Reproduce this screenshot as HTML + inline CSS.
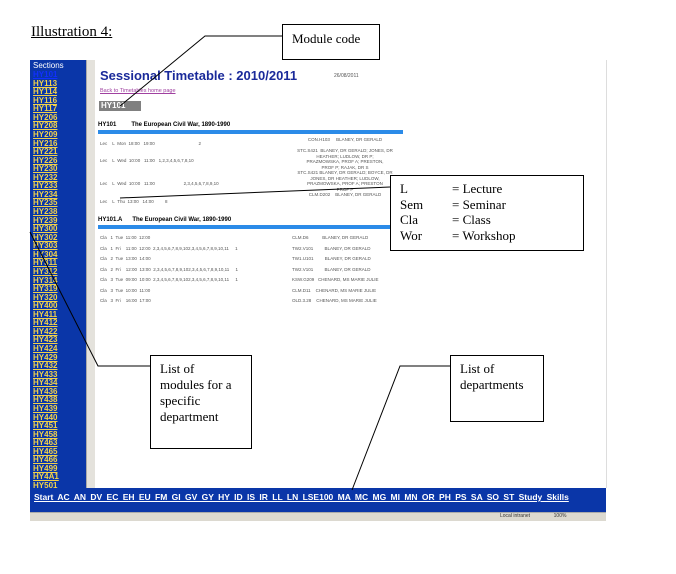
<!DOCTYPE html>
<html><head><meta charset="utf-8"><style>
body{margin:0;width:676px;height:574px;background:#fff;position:relative;overflow:hidden;font-family:"Liberation Sans",sans-serif}
.a{position:absolute}
.serif{font-family:"Liberation Serif",serif}
#side{left:30px;top:60px;width:56px;height:428px;background:#0a36a8;overflow:hidden}
#side div{font-size:8px;font-weight:bold;color:#f2d24a;text-decoration:underline;line-height:8.57px;height:8.57px;padding-left:3px}
.t{font-size:4.5px;color:#555;white-space:nowrap}
.hd{background:#2b8be8;height:4px}
.box{border:1px solid #000;background:#fff}
</style></head><body>
<div class="a serif" style="left:31px;top:24px;font-size:15px;text-decoration:underline">Illustration 4:</div>
<div class="a" id="side">
<div style="color:#fff;text-decoration:none;font-weight:normal;height:11px;line-height:11px">Sections</div>
<div style="color:#1030ff">HY101</div><div>HY113</div><div>HY114</div><div>HY116</div><div>HY117</div><div>HY206</div><div>HY208</div><div>HY209</div><div>HY216</div><div>HY221</div><div>HY226</div><div>HY230</div><div>HY232</div><div>HY233</div><div>HY234</div><div>HY235</div><div>HY238</div><div>HY239</div><div>HY300</div><div>HY302</div><div>HY303</div><div>HY304</div><div>HY311</div><div>HY312</div><div>HY314</div><div>HY319</div><div>HY320</div><div>HY400</div><div>HY411</div><div>HY412</div><div>HY422</div><div>HY423</div><div>HY424</div><div>HY429</div><div>HY432</div><div>HY433</div><div>HY434</div><div>HY436</div><div>HY438</div><div>HY439</div><div>HY440</div><div>HY451</div><div>HY458</div><div>HY463</div><div>HY465</div><div>HY466</div><div>HY499</div><div>HY4A1</div><div>HY501</div>
</div>
<div class="a" style="left:86px;top:60px;width:8px;height:428px;background:#e4e2dc;border-left:1px solid #aaa"></div>
<div class="a" style="left:606px;top:60px;width:1px;height:428px;background:#ddd"></div>
<div class="a" style="left:100px;top:68px;font-size:13px;font-weight:bold;color:#1a2a9a">Sessional Timetable : 2010/2011</div>
<div class="a t" style="left:334px;top:73px;font-size:5px">26/08/2011</div>
<div class="a" style="left:100px;top:88px;font-size:5.5px;color:#a040a0;text-decoration:underline">Back to Timetables home page</div>
<div class="a" style="left:99px;top:101px;width:40px;height:10px;background:#808080;color:#fff;font-size:8px;font-weight:bold;padding-left:2px">HY101</div>
<div class="a" style="left:98px;top:122px;font-size:6px;font-weight:bold">HY101&nbsp;&nbsp;&nbsp;&nbsp;&nbsp;&nbsp;&nbsp;&nbsp;&nbsp;The European Civil War, 1890-1990</div>
<div class="a hd" style="left:98px;top:130px;width:305px"></div>
<div class="a t" style="left:100px;top:141px">Lec&nbsp;&nbsp;&nbsp;&nbsp;L&nbsp;&nbsp;Mon&nbsp;&nbsp;18:00&nbsp;&nbsp;&nbsp;19:00&nbsp;&nbsp;&nbsp;&nbsp;&nbsp;&nbsp;&nbsp;&nbsp;&nbsp;&nbsp;&nbsp;&nbsp;&nbsp;&nbsp;&nbsp;&nbsp;&nbsp;&nbsp;&nbsp;&nbsp;&nbsp;&nbsp;&nbsp;&nbsp;&nbsp;&nbsp;&nbsp;&nbsp;&nbsp;&nbsp;&nbsp;&nbsp;&nbsp;&nbsp;&nbsp;2</div>
<div class="a t" style="left:100px;top:158px">Lec&nbsp;&nbsp;&nbsp;&nbsp;L&nbsp;&nbsp;Wed&nbsp;&nbsp;10:00&nbsp;&nbsp;&nbsp;11:00&nbsp;&nbsp;&nbsp;1,2,3,4,5,6,7,8,10</div>
<div class="a t" style="left:100px;top:181px">Lec&nbsp;&nbsp;&nbsp;&nbsp;L&nbsp;&nbsp;Wed&nbsp;&nbsp;10:00&nbsp;&nbsp;&nbsp;11:00&nbsp;&nbsp;&nbsp;&nbsp;&nbsp;&nbsp;&nbsp;&nbsp;&nbsp;&nbsp;&nbsp;&nbsp;&nbsp;&nbsp;&nbsp;&nbsp;&nbsp;&nbsp;&nbsp;&nbsp;&nbsp;&nbsp;&nbsp;2,3,4,5,6,7,8,9,10</div>
<div class="a t" style="left:100px;top:199px">Lec&nbsp;&nbsp;&nbsp;&nbsp;L&nbsp;&nbsp;Thu&nbsp;&nbsp;13:00&nbsp;&nbsp;&nbsp;14:00&nbsp;&nbsp;&nbsp;&nbsp;&nbsp;&nbsp;&nbsp;&nbsp;&nbsp;8</div>
<div class="a t" style="left:286px;top:137px;line-height:5.5px;text-align:center;width:118px">CON.H103&nbsp;&nbsp;&nbsp;&nbsp;&nbsp;BLANEY, DR GERALD<br><br>STC.S421&nbsp;&nbsp;BLANEY, DR GERALD; JONES, DR<br>HEATHER; LUDLOW, DR P;<br>PRAZMOWSKA, PROF A; PRESTON,<br>PROF P; RAJAK, DR S<br>STC.S421&nbsp;BLANEY, DR GERALD; BOYCE, DR<br>JONES, DR HEATHER; LUDLOW,<br>PRAZMOWSKA, PROF A; PRESTON<br>PROF P<br>CLM.D202&nbsp;&nbsp;&nbsp;&nbsp;BLANEY, DR GERALD</div>
<div class="a" style="left:98px;top:217px;font-size:6px;font-weight:bold">HY101.A&nbsp;&nbsp;&nbsp;&nbsp;&nbsp;&nbsp;The European Civil War, 1890-1990</div>
<div class="a hd" style="left:98px;top:225px;width:305px"></div>
<div class="a t" style="left:100px;top:233px;line-height:10.5px">Cla&nbsp;&nbsp;&nbsp;1&nbsp;&nbsp;Tue&nbsp;&nbsp;11:00&nbsp;&nbsp;12:00<br>Cla&nbsp;&nbsp;&nbsp;1&nbsp;&nbsp;Fri&nbsp;&nbsp;&nbsp;&nbsp;11:00&nbsp;&nbsp;12:00&nbsp;&nbsp;2,3,4,5,6,7,8,9,102,3,4,5,6,7,8,9,10,11&nbsp;&nbsp;&nbsp;&nbsp;&nbsp;1<br>Cla&nbsp;&nbsp;&nbsp;2&nbsp;&nbsp;Tue&nbsp;&nbsp;13:00&nbsp;&nbsp;14:00<br>Cla&nbsp;&nbsp;&nbsp;2&nbsp;&nbsp;Fri&nbsp;&nbsp;&nbsp;&nbsp;12:00&nbsp;&nbsp;13:00&nbsp;&nbsp;2,3,4,5,6,7,8,9,102,3,4,5,6,7,8,9,10,11&nbsp;&nbsp;&nbsp;&nbsp;&nbsp;1<br>Cla&nbsp;&nbsp;&nbsp;3&nbsp;&nbsp;Tue&nbsp;&nbsp;09:00&nbsp;&nbsp;10:00&nbsp;&nbsp;2,3,4,5,6,7,8,9,102,3,4,5,6,7,8,9,10,11&nbsp;&nbsp;&nbsp;&nbsp;&nbsp;1<br>Cla&nbsp;&nbsp;&nbsp;3&nbsp;&nbsp;Tue&nbsp;&nbsp;10:00&nbsp;&nbsp;11:00<br>Cla&nbsp;&nbsp;&nbsp;3&nbsp;&nbsp;Fri&nbsp;&nbsp;&nbsp;&nbsp;16:00&nbsp;&nbsp;17:00</div>
<div class="a t" style="left:292px;top:233px;line-height:10.5px">CLM.D6&nbsp;&nbsp;&nbsp;&nbsp;&nbsp;&nbsp;&nbsp;&nbsp;&nbsp;&nbsp;&nbsp;BLANEY, DR GERALD<br>TW2.V101&nbsp;&nbsp;&nbsp;&nbsp;&nbsp;&nbsp;&nbsp;&nbsp;&nbsp;BLANEY, DR GERALD<br>TW1.U101&nbsp;&nbsp;&nbsp;&nbsp;&nbsp;&nbsp;&nbsp;&nbsp;&nbsp;BLANEY, DR GERALD<br>TW2.V101&nbsp;&nbsp;&nbsp;&nbsp;&nbsp;&nbsp;&nbsp;&nbsp;&nbsp;BLANEY, DR GERALD<br>KSW.G209&nbsp;&nbsp;&nbsp;CHENARD, MS MARIE JULIE<br>CLM.D11&nbsp;&nbsp;&nbsp;&nbsp;CHENARD, MS MARIE JULIE<br>OLD.3.28&nbsp;&nbsp;&nbsp;&nbsp;CHENARD, MS MARIE JULIE</div>
<div class="a" style="left:30px;top:488px;width:576px;height:24px;background:#0a36a8"></div>
<div class="a" style="left:34px;top:492px;font-size:8.5px;font-weight:bold;color:#fff;text-decoration:underline;word-spacing:2px;white-space:nowrap">Start AC AN DV EC EH EU FM GI GV GY HY ID IS IR LL LN LSE100 MA MC MG MI MN OR PH PS SA SO ST Study Skills</div>
<div class="a" style="left:30px;top:512px;width:576px;height:8px;background:#dcd9d0;border-top:1px solid #aaa"></div>
<div class="a" style="left:500px;top:513px;font-size:5px;color:#333">Local intranet&nbsp;&nbsp;&nbsp;&nbsp;&nbsp;&nbsp;&nbsp;&nbsp;&nbsp;&nbsp;&nbsp;&nbsp;&nbsp;&nbsp;&nbsp;&nbsp;&nbsp;100%</div>
<svg class="a" style="left:0;top:0" width="676" height="574"><g stroke="#000" stroke-width="1" fill="none">
<polyline points="282,36 205,36 120,106"/>
<line x1="390" y1="187" x2="120" y2="198"/>
<polyline points="150,366 98,366 30,232"/>
<polyline points="450,366 400,366 352,490"/>
</g></svg>
<div class="a box serif" style="left:282px;top:24px;width:96px;height:34px;font-size:13px"><div style="padding:6px 0 0 9px">Module code</div></div>
<div class="a box serif" style="left:390px;top:175px;width:192px;height:74px;font-size:13px;line-height:15.5px"><div style="padding:5px 0 0 9px"><span style="display:inline-block;width:52px">L</span>= Lecture<br><span style="display:inline-block;width:52px">Sem</span>= Seminar<br><span style="display:inline-block;width:52px">Cla</span>= Class<br><span style="display:inline-block;width:52px">Wor</span>= Workshop</div></div>
<div class="a box serif" style="left:150px;top:355px;width:100px;height:92px;font-size:13px;line-height:16px"><div style="padding:5px 0 0 9px">List of<br>modules for a<br>specific<br>department</div></div>
<div class="a box serif" style="left:450px;top:355px;width:92px;height:65px;font-size:13px;line-height:16px"><div style="padding:5px 0 0 9px">List of<br>departments</div></div>
</body></html>
